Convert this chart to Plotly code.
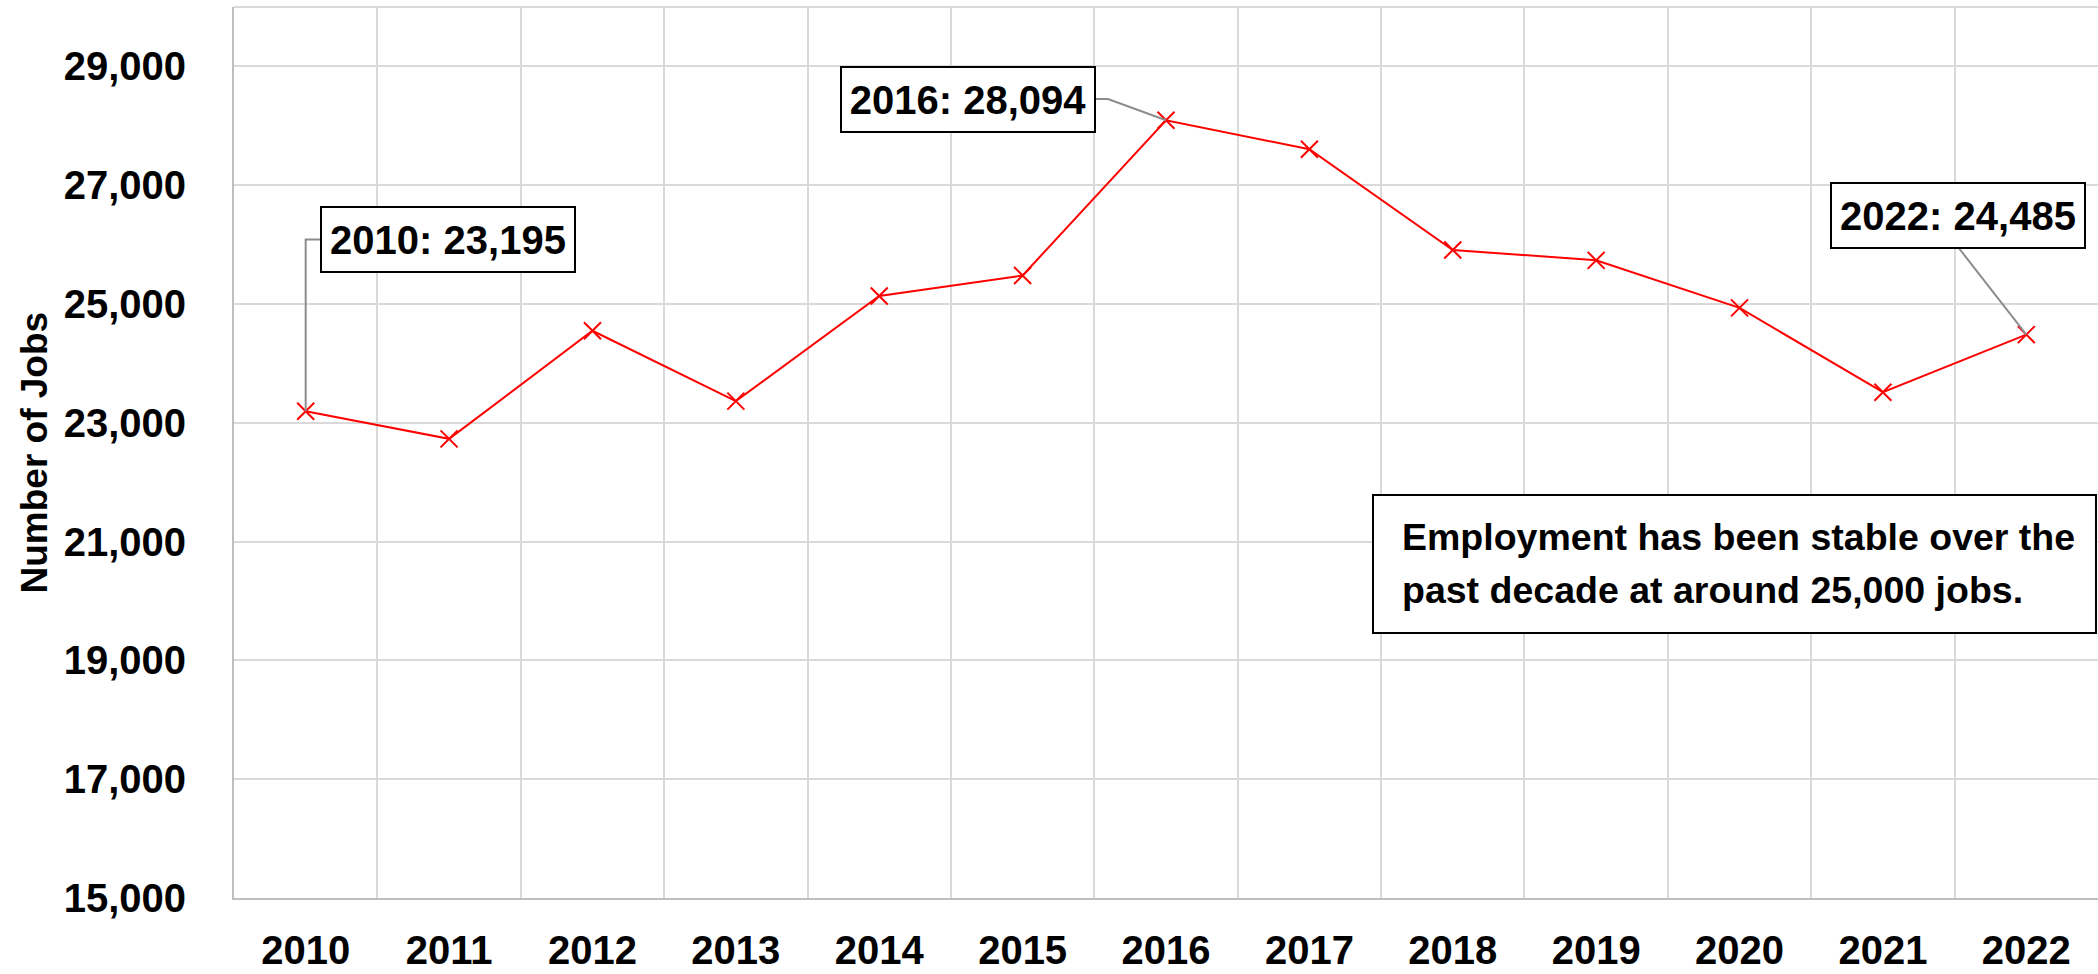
import plotly.graph_objects as go

years = ["2010", "2011", "2012", "2013", "2014", "2015", "2016",
         "2017", "2018", "2019", "2020", "2021", "2022"]
jobs = [23195, 22730, 24550, 23365, 25135, 25480, 28094,
        27605, 25910, 25735, 24935, 23515, 24485]
y_ticks = [15000, 17000, 19000, 21000, 23000, 25000, 27000, 29000]
y_tick_text = ["15,000", "17,000", "19,000", "21,000", "23,000", "25,000", "27,000", "29,000"]
callout_idx = [0, 6, 12]
note_lines = ["Employment has been stable over the",
              "past decade at around 25,000 jobs."]

W, H = 2098, 974
ML, MR, MT, MB = 234, 0, 7, 76
PW, PH = W - ML - MR, H - MT - MB
YMIN, YMAX = 15000, 30000
CAT = PW / len(years)


def px_x(px):
    return (px - ML) / PW


def px_y(py):
    return (H - MB - py) / PH


def idx_from_px(px):
    return (px - ML) / CAT - 0.5


def val_from_py(py):
    return YMIN + (H - MB - py) / PH * (YMAX - YMIN)


FONT = "Liberation Sans, Arial, sans-serif"

fig = go.Figure()
fig.add_trace(go.Scatter(
    x=years, y=jobs, mode="lines+markers",
    line=dict(color="#ff0000", width=2),
    marker=dict(symbol="x-thin", size=17, color="#ff0000",
                line=dict(color="#ff0000", width=2)),
    showlegend=False, hoverinfo="x+y",
))

# leader lines (gray) from callout boxes to the points
lead = dict(color="#8c8c8c", width=2)
i0, i6, i12 = callout_idx
fig.add_shape(type="path", xref="x", yref="y", layer="above",
              path=f"M {i0} {jobs[i0]} L {i0} {val_from_py(239.5)} L {idx_from_px(321)} {val_from_py(239.5)}",
              line=lead)
fig.add_shape(type="path", xref="x", yref="y", layer="above",
              path=f"M {idx_from_px(1095)} {val_from_py(99)} L {idx_from_px(1108)} {val_from_py(99)} L {i6} {jobs[i6]}",
              line=lead)
fig.add_shape(type="path", xref="x", yref="y", layer="above",
              path=f"M {idx_from_px(1958)} {val_from_py(247)} L {i12} {jobs[i12]}",
              line=lead)

# top border of plot area
fig.add_shape(type="line", xref="paper", yref="paper", x0=0, x1=1, y0=1, y1=1,
              line=dict(color="#d9d9d9", width=2), layer="below")

# callout boxes
boxes = {0: (448, 239.5), 6: (968, 99.5), 12: (1957.5, 215)}
for i in callout_idx:
    cx, cy = boxes[i]
    fig.add_annotation(
        xref="paper", yref="paper", x=px_x(cx), y=px_y(cy),
        xanchor="center", yanchor="middle", showarrow=False,
        text=f"{years[i]}: {jobs[i]:,}",
        font=dict(family=FONT, size=40, color="black", weight="bold"),
        bgcolor="white", bordercolor="black", borderwidth=2, borderpad=1,
        width=250, height=61,
    )

# note box
fig.add_shape(type="rect", xref="paper", yref="paper",
              x0=px_x(1373), x1=px_x(2096), y0=px_y(633), y1=px_y(495),
              line=dict(color="black", width=2), fillcolor="white", layer="above")
for line_txt, cyc in zip(note_lines, [536.5, 589.5]):
    fig.add_annotation(
        xref="paper", yref="paper", x=px_x(1400), y=px_y(cyc),
        xanchor="left", yanchor="middle", showarrow=False,
        text=line_txt,
        font=dict(family=FONT, size=37.5, color="black", weight="bold"),
    )

# y-axis title
fig.add_annotation(
    xref="paper", yref="paper", x=px_x(34), y=0.5,
    xanchor="center", yanchor="middle", showarrow=False,
    text="Number of Jobs", textangle=-90,
    font=dict(family=FONT, size=37, color="black", weight="bold"),
)

fig.update_layout(
    width=W, height=H,
    margin=dict(l=ML, r=MR, t=MT, b=MB, pad=0, autoexpand=False),
    paper_bgcolor="white", plot_bgcolor="white",
    font=dict(family=FONT, color="black"),
    showlegend=False,
    xaxis=dict(
        type="category", categoryorder="array", categoryarray=years,
        tickson="boundaries", showgrid=True, gridcolor="#d9d9d9", gridwidth=2,
        showline=True, linecolor="#bfbfbf", linewidth=2,
        ticks="", ticklabelstandoff=16, automargin=False,
        tickfont=dict(family=FONT, size=40, color="black", weight="bold"),
        range=[-0.5, len(years) - 0.5], zeroline=False,
    ),
    yaxis=dict(
        range=[YMIN, YMAX], tickmode="array", tickvals=y_ticks, ticktext=y_tick_text,
        showgrid=True, gridcolor="#d9d9d9", gridwidth=2,
        showline=True, linecolor="#bfbfbf", linewidth=2,
        ticks="", ticklabelstandoff=38, automargin=False,
        tickfont=dict(family=FONT, size=40, color="black", weight="bold"),
        zeroline=False,
    ),
)

fig.write_html(
    "out.html",
    config={"displayModeBar": False},
    post_script="document.body.style.margin='0';document.body.style.padding='0';"
                "document.body.style.overflow='hidden';",
)
